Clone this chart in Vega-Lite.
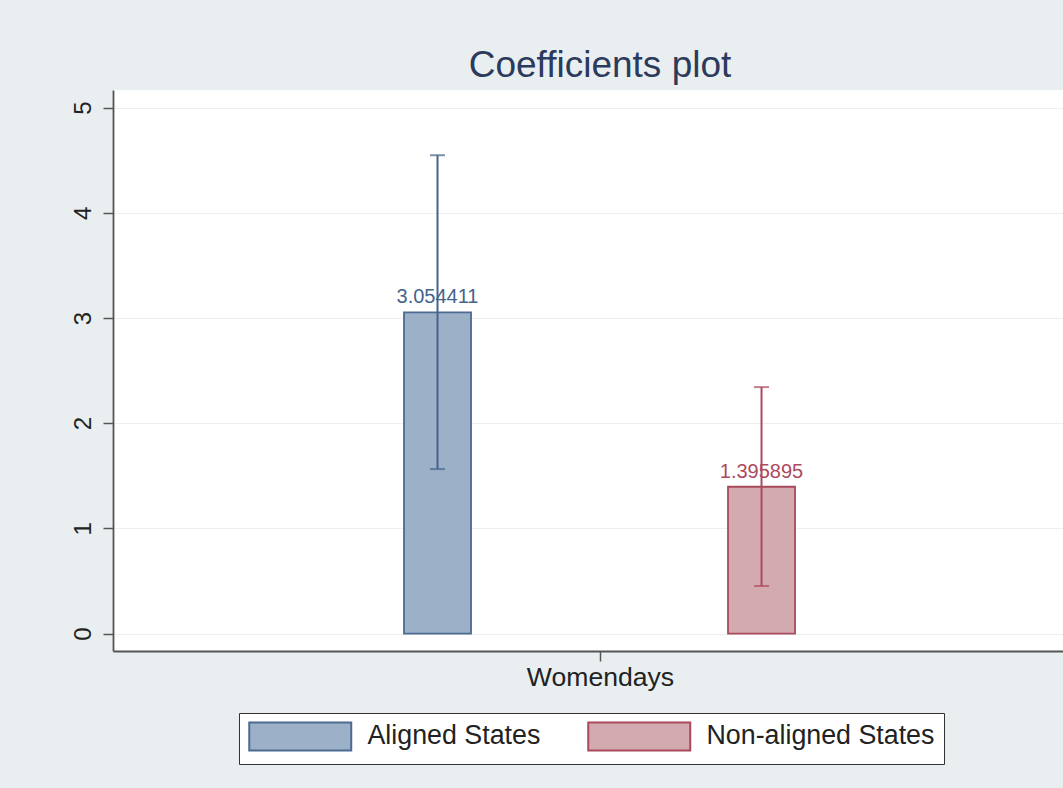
{
  "$schema": "https://vega.github.io/schema/vega-lite/v6.json",
  "autosize": {"type": "none"},
  "padding": {"left": 113, "top": 90, "right": 0, "bottom": 137},
  "width": 950,
  "height": 561,
  "background": "#e9eff1",
  "title": {
    "text": "Coefficients plot",
    "font": "Liberation Sans",
    "fontSize": 37,
    "fontWeight": "normal",
    "color": "#2c3a5c",
    "anchor": "middle",
    "baseline": "alphabetic",
    "offset": -24,
    "dx": 12
  },
  "config": {
    "view": {"fill": "white", "stroke": null},
    "font": "Liberation Sans"
  },
  "data": {
    "values": [
      {"variable": "Womendays", "group": "Aligned States", "coef": 3.054411, "lo": 1.564, "hi": 4.548},
      {"variable": "Womendays", "group": "Non-aligned States", "coef": 1.395895, "lo": 0.452, "hi": 2.343}
    ]
  },
  "encoding": {
    "x": {
      "field": "variable",
      "type": "nominal",
      "scale": {"paddingInner": 0, "paddingOuter": 0},
      "axis": {
        "title": null,
        "labelAngle": 0,
        "labelFont": "Liberation Sans",
        "labelFontSize": 26.6,
        "labelColor": "#222",
        "labelOffset": 0,
        "tickOffset": 12,
        "tickSize": 10,
        "tickColor": "#555",
        "tickWidth": 1.5,
        "domainColor": "#555",
        "domainWidth": 1.8,
        "labelPadding": 3,
        "labelBaseline": "top",
        "grid": false
      }
    },
    "xOffset": {
      "field": "group",
      "type": "nominal",
      "scale": {"paddingInner": 0.7932, "paddingOuter": 0.8626, "align": 0.5206}
    }
  },
  "layer": [
    {
      "mark": {"type": "bar", "strokeWidth": 1.8},
      "encoding": {
        "y": {
          "field": "coef",
          "type": "quantitative",
          "scale": {"domain": [-0.166, 5.168], "nice": false, "zero": false},
          "axis": {
            "title": null,
            "values": [0, 1, 2, 3, 4, 5],
            "format": "d",
            "labelAngle": -90,
            "labelAlign": "center",
            "labelBaseline": "alphabetic",
            "labelFont": "Liberation Sans",
            "labelFontSize": 24,
            "labelColor": "#222",
            "labelPadding": 13,
            "tickSize": 10,
            "tickColor": "#555",
            "tickWidth": 1.5,
            "domainColor": "#555",
            "domainWidth": 1.8,
            "grid": true,
            "gridColor": "#eceff1",
            "gridWidth": 1.2
          }
        },
        "y2": {"datum": 0},
        "fill": {
          "field": "group",
          "type": "nominal",
          "scale": {"domain": ["Aligned States", "Non-aligned States"], "range": ["#9cb0c8", "#d4aab1"]},
          "legend": {
            "title": null,
            "orient": "none",
            "legendX": 126,
            "legendY": 623,
            "direction": "horizontal",
            "columns": 2,
            "symbolType": "M-1,-1.1H7V1.1H-1Z",
            "symbolSize": 650,
            "symbolStrokeWidth": 2,
            "labelOffset": 91.5,
            "columnPadding": 43,
            "padding": 9,
            "strokeColor": "#333",
            "fillColor": "white",
            "labelFont": "Liberation Sans",
            "labelFontSize": 26.8,
            "labelColor": "#222",
            "labelLimit": 0
          }
        },
        "stroke": {
          "field": "group",
          "type": "nominal",
          "scale": {"domain": ["Aligned States", "Non-aligned States"], "range": ["#4d6a91", "#a84a5c"]},
          "legend": {
            "title": null,
            "orient": "none",
            "legendX": 126,
            "legendY": 623,
            "direction": "horizontal",
            "columns": 2,
            "symbolType": "M-1,-1.1H7V1.1H-1Z",
            "symbolSize": 650,
            "symbolStrokeWidth": 2,
            "labelOffset": 91.5,
            "columnPadding": 43,
            "padding": 9,
            "strokeColor": "#333",
            "fillColor": "white",
            "labelFont": "Liberation Sans",
            "labelFontSize": 26.8,
            "labelColor": "#222",
            "labelLimit": 0
          }
        }
      }
    },
    {
      "mark": {"type": "text", "font": "Liberation Sans", "fontSize": 20, "baseline": "alphabetic", "dy": -9},
      "encoding": {
        "y": {"field": "coef", "type": "quantitative"},
        "text": {"field": "coef", "type": "quantitative", "format": ".6f"},
        "color": {
          "field": "group",
          "type": "nominal",
          "scale": {"domain": ["Aligned States", "Non-aligned States"], "range": ["#45648c", "#ad4a5e"]},
          "legend": null
        }
      }
    },
    {
      "mark": {"type": "rule", "strokeWidth": 2},
      "encoding": {
        "y": {"field": "lo", "type": "quantitative"},
        "y2": {"field": "hi"},
        "color": {"field": "group", "type": "nominal", "legend": null}
      }
    },
    {
      "mark": {"type": "tick", "thickness": 2, "size": 15},
      "encoding": {
        "y": {"field": "lo", "type": "quantitative"},
        "color": {"field": "group", "type": "nominal", "legend": null}
      }
    },
    {
      "mark": {"type": "tick", "thickness": 2, "size": 15},
      "encoding": {
        "y": {"field": "hi", "type": "quantitative"},
        "color": {"field": "group", "type": "nominal", "legend": null}
      }
    }
  ]
}
